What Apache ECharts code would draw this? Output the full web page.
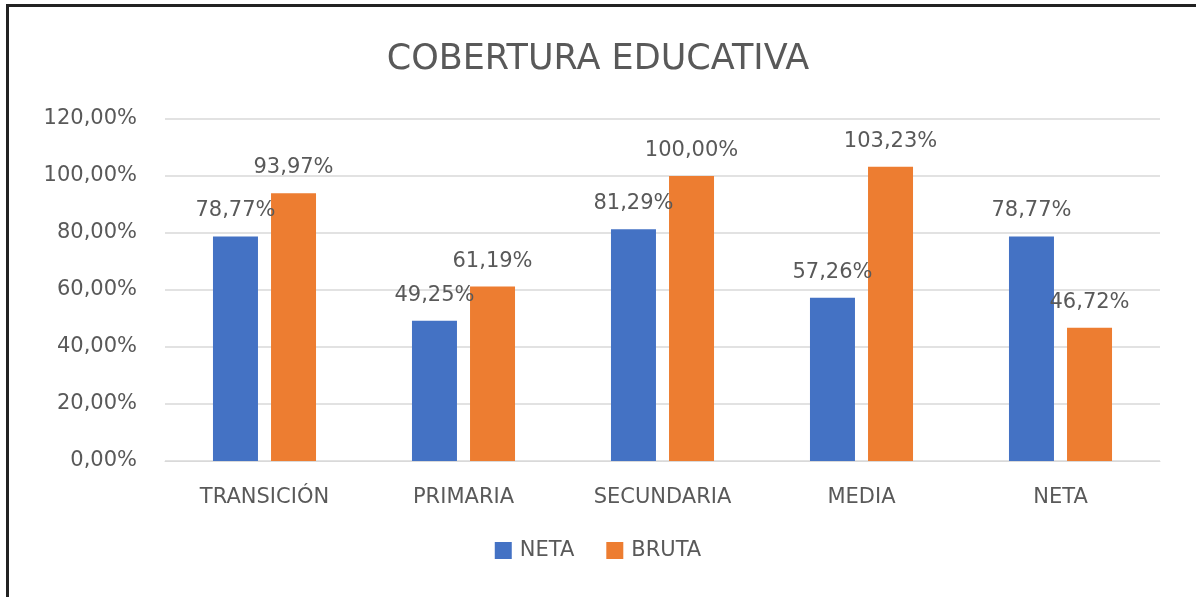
<!DOCTYPE html>
<html>
<head>
<meta charset="utf-8">
<script src="https://cdn.jsdelivr.net/npm/echarts@6/dist/echarts.min.js"></script>
<style>
  html, body { margin: 0; padding: 0; background: #fff; }
  #frame {
    position: absolute; left: 6px; top: 4px; width: 1190px; height: 593px;
    border-top: 3px solid #222; border-left: 3px solid #222; box-sizing: border-box;
  }
  #chart { position: absolute; left: 0; top: 0; width: 1196px; height: 597px; }
</style>
</head>
<body>
<div id="chart"></div>
<div id="frame"></div>
<script>
var categories = ['TRANSICIÓN', 'PRIMARIA', 'SECUNDARIA', 'MEDIA', 'NETA'];
var netaValues = [78.77, 49.25, 81.29, 57.26, 78.77];
var brutaValues = [93.97, 61.19, 100.00, 103.23, 46.72];
var seriesNames = ['NETA', 'BRUTA'];

var textColor = '#595959';
var fontName = '"DejaVu Sans", "Open Sans", sans-serif';

function pct(v) {
    return v.toFixed(2).replace('.', ',') + '%';
}

var option = {
    animation: false,
    title: {
        text: 'COBERTURA EDUCATIVA',
        left: 'center',
        top: 37,
        textStyle: { color: textColor, fontSize: 35, fontWeight: 'normal', fontFamily: fontName }
    },
    legend: {
        bottom: 31,
        left: 'center',
        data: seriesNames,
        icon: 'rect',
        itemWidth: 17,
        itemHeight: 17,
        itemGap: 32,
        textStyle: { color: textColor, fontSize: 21, fontFamily: fontName, padding: [0, 0, 0, 3] }
    },
    grid: { left: 165, right: 36, top: 119, bottom: 136 },
    xAxis: {
        type: 'category',
        data: categories,
        axisTick: { show: false },
        axisLine: { lineStyle: { color: '#d9d9d9' } },
        axisLabel: { color: textColor, fontSize: 21, margin: 26, fontFamily: fontName }
    },
    yAxis: {
        type: 'value',
        min: 0,
        max: 120,
        interval: 20,
        axisLabel: {
            color: textColor, fontSize: 21, margin: 28, fontFamily: fontName,
            formatter: function (v) { return pct(v); }
        },
        splitLine: { lineStyle: { color: '#d9d9d9', width: 1.5 } }
    },
    series: [
        {
            name: seriesNames[0],
            type: 'bar',
            data: netaValues,
            barWidth: 45,
            barGap: '29%',
            itemStyle: { color: '#4472C4' },
            label: {
                show: true, position: 'top', distance: 15,
                color: textColor, fontSize: 21, fontFamily: fontName,
                formatter: function (p) { return pct(p.value); }
            }
        },
        {
            name: seriesNames[1],
            type: 'bar',
            data: brutaValues,
            barWidth: 45,
            itemStyle: { color: '#ED7D31' },
            label: {
                show: true, position: 'top', distance: 15,
                color: textColor, fontSize: 21, fontFamily: fontName,
                formatter: function (p) { return pct(p.value); }
            }
        }
    ]
};

var chart = echarts.init(document.getElementById('chart'));
chart.setOption(option);
</script>
</body>
</html>
